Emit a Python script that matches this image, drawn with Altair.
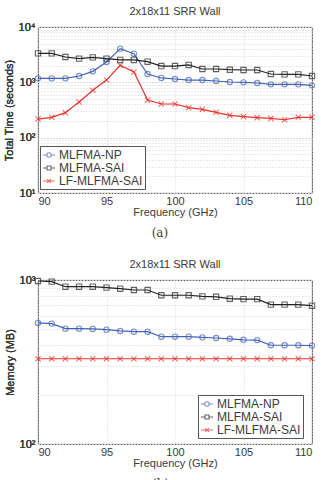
import altair as alt
import pandas as pd

# Frequency sweep (GHz)
freq = list(range(90, 111))
series = ["MLFMA-NP", "MLFMA-SAI", "LF-MLFMA-SAI"]
colors = ["#4262b8", "#222222", "#e8312b"]

# Total solution time (seconds)
time_np = [1180, 1180, 1180, 1300, 1580, 2330, 4060, 3290, 1415, 1200, 1150,
           1100, 1100, 1057, 1014, 1000, 972, 920, 920, 920, 883]
time_sai = [3340, 3340, 2870, 2680, 2830, 2680, 2540, 2540, 2360, 1970, 1970,
            2060, 1740, 1740, 1690, 1670, 1670, 1415, 1395, 1395, 1300]
time_lf = [217, 233, 283, 441, 717, 1100, 2030, 1540, 480, 406, 406,
           348, 325, 287, 253, 240, 230, 223, 211, 233, 233]

# Memory footprint (MB)
mem_np = [547, 542, 505, 505, 503, 498, 489, 484, 484, 451, 451,
          451, 447, 443, 438, 432, 430, 400, 400, 400, 398]
mem_sai = [986, 977, 910, 910, 910, 898, 885, 869, 869, 807, 807,
           807, 795, 790, 769, 765, 765, 708, 708, 708, 697]
mem_lf = [331, 331, 331, 331, 331, 331, 331, 331, 331, 331, 331,
          331, 331, 331, 331, 331, 331, 331, 331, 331, 331]

x_ticks = [90, 95, 100, 105, 110]
SUP = {1: "¹", 2: "²", 3: "³", 4: "⁴"}

TEXT = "#3a3a3a"
GRID = "#d4d4d4"
FONT = "Liberation Sans"


def long_table(a, b, c):
    rows = []
    for name, vals in zip(series, [a, b, c]):
        for f, v in zip(freq, vals):
            rows.append({"freq": f, "value": v, "series": name})
    return pd.DataFrame(rows)


def sup_expr(decades):
    parts = " : ".join(
        f"datum.value == {10 ** d} ? '10{SUP[d]}'" for d in decades
    )
    return parts + " : ''"


# Marker shapes in the plot, and line-plus-marker glyphs for the legend
marker_shapes = ["circle", "square", "M-1,-1L1,1M-1,1L1,-1"]
legend_glyphs = [
    "M-1,0H-0.36M0.36,0H1M-0.36,0A0.36,0.36 0 1,1 0.36,0A0.36,0.36 0 1,1 -0.36,0",
    "M-1,0H-0.32M0.32,0H1M-0.32,-0.32H0.32V0.32H-0.32Z",
    "M-1,0H1M-0.32,-0.32L0.32,0.32M-0.32,0.32L0.32,-0.32",
]


def panel(df, ytitle, ylo_dec, yhi_dec, height, legend_x, legend_y, caption):
    x = alt.X(
        "freq:Q",
        scale=alt.Scale(domain=[90, 110], nice=False, zero=False),
        axis=alt.Axis(
            values=x_ticks, title="Frequency (GHz)", grid=True,
            gridColor=GRID, gridDash=[1, 2], ticks=False, domain=False,
            labelPadding=2, titlePadding=0, titleFontWeight="normal",
        ),
    )
    yscale = alt.Scale(type="log", domain=[10 ** ylo_dec, 10 ** yhi_dec], nice=False)
    decades = list(range(ylo_dec, yhi_dec + 1))
    y_main = alt.Y(
        "value:Q", scale=yscale,
        axis=alt.Axis(
            orient="left",
            values=[10 ** d for d in decades], labelExpr=sup_expr(decades),
            title=ytitle, grid=True, gridColor=GRID, gridDash=[1, 2],
            ticks=False, domain=False, labelPadding=3, titlePadding=4,
            titleFontWeight="normal",
        ),
    )
    minor = [m * 10 ** d for d in range(ylo_dec, yhi_dec) for m in range(2, 10)]
    y_minor = alt.Y(
        "value:Q", scale=yscale,
        axis=alt.Axis(
            orient="right",
            values=minor, grid=True, gridColor=GRID, gridDash=[1, 2],
            labels=False, ticks=False, domain=False, title=None,
        ),
    )
    color = alt.Color("series:N", scale=alt.Scale(domain=series, range=colors), legend=None)

    base = alt.Chart(df)
    lines = base.mark_line(strokeWidth=1.2).encode(
        x=x, y=y_main, color=color, detail="series:N"
    )
    points = base.mark_point(filled=False, size=28, strokeWidth=1.1).encode(
        x=x, y=y_main, color=color,
        shape=alt.Shape("series:N", scale=alt.Scale(domain=series, range=marker_shapes), legend=None),
    )
    grid_layer = base.transform_filter("false").mark_point().encode(x=x, y=y_minor)
    key_legend = alt.Legend(orient="none", legendX=legend_x, legendY=legend_y, title=None)
    key = base.transform_filter("false").mark_point(filled=False, strokeWidth=1.1).encode(
        x=x, y=y_main,
        color=alt.Color("series:N", scale=alt.Scale(domain=series, range=colors),
                        legend=key_legend),
        shape=alt.Shape("series:N", scale=alt.Scale(domain=series, range=legend_glyphs),
                        legend=key_legend),
    )
    layered = (
        alt.layer(lines, points, grid_layer, key)
        .resolve_scale(shape="independent", color="independent")
        .resolve_legend(shape="independent", color="independent")
        .resolve_axis(y="independent")
        .properties(
            width=274, height=height,
            title=alt.Title("2x18x11 SRR Wall", fontSize=11, fontWeight="normal",
                            color=TEXT, font=FONT, offset=4),
        )
    )
    return alt.vconcat(layered).properties(
        title=alt.Title(caption, orient="bottom", anchor="middle", font="DejaVu Serif",
                        fontSize=12, fontWeight="normal", color=TEXT, offset=11)
    )


top = panel(long_table(time_np, time_sai, time_lf), "Total Time (seconds)",
            1, 4, 166, 2, 119, "(a)")
bottom = panel(long_table(mem_np, mem_sai, mem_lf), "Memory (MB)",
               2, 3, 164, 160, 115, "(b)")

chart = (
    alt.vconcat(top, bottom, spacing=18)
    .properties(padding={"left": 2, "top": 5, "right": 0, "bottom": 0})
    .configure_view(stroke="#333333", strokeWidth=0.9)
    .configure_axis(labelFont=FONT, titleFont=FONT, labelFontSize=11, titleFontSize=11,
                    labelColor=TEXT, titleColor=TEXT, titleFontWeight="normal")
    .configure_legend(labelFont=FONT, labelFontSize=12, labelColor=TEXT,
                      symbolSize=150, symbolStrokeWidth=1.1, symbolFillColor="transparent",
                      strokeColor="#555555", fillColor="white", padding=2,
                      rowPadding=0, labelOffset=3, symbolType="circle")
    .configure_concat(spacing=0)
)

chart.save("out.html", embed_options={"renderer": "svg", "actions": False})
